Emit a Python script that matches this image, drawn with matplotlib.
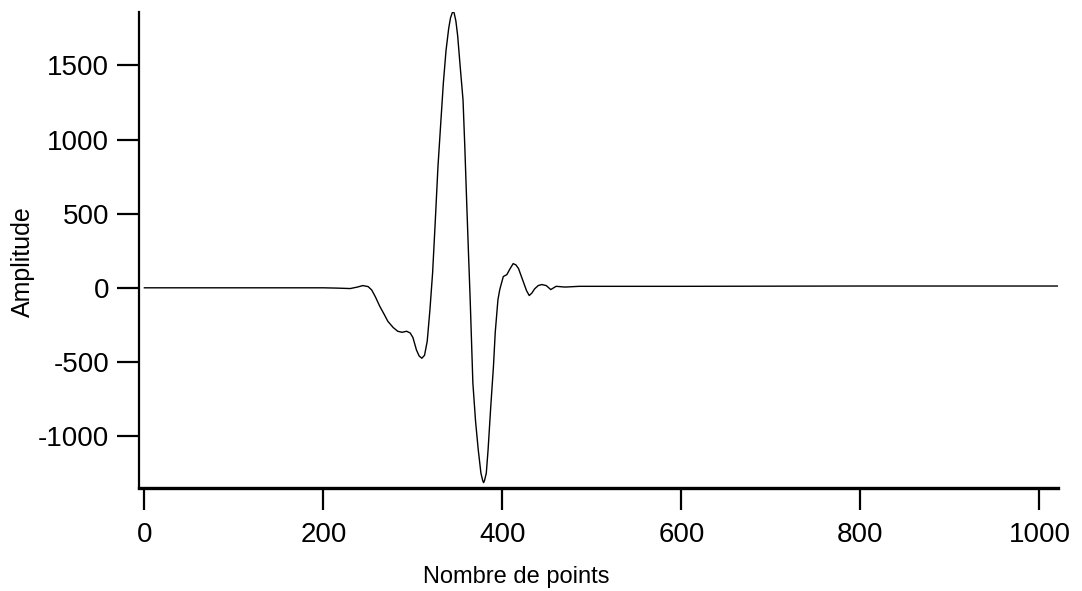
import numpy as np
import matplotlib.pyplot as plt

plt.rcParams['font.family'] = ['Liberation Sans', 'DejaVu Sans']
plt.rcParams['axes.unicode_minus'] = False

# waveform (point index, amplitude)
points = [0, 200, 215, 230, 238, 244, 250, 254, 258, 263, 268, 272, 278, 283,
          288, 293, 297, 300, 304, 307, 310, 313, 316, 319, 322, 325, 328, 331,
          334, 337, 340, 342, 344, 345, 346, 348, 350, 353, 356, 358, 360, 362,
          364, 367, 370, 373, 376, 378, 379, 380, 382, 384, 387, 390, 392, 395,
          397, 401, 405, 408, 412, 415, 418, 421, 424, 427, 430, 433, 436, 440,
          444, 449, 454, 460, 470, 486, 600, 800, 1023]
amplitude = [0, 0, -2, -5, 5, 15, 8, -15, -60, -125, -180, -226, -268, -293,
             -300, -293, -305, -335, -420, -460, -475, -455, -360, -150, 100, 450,
             818, 1100, 1380, 1600, 1750, 1820, 1855, 1862, 1855, 1800, 1700, 1480,
             1267, 950, 593, 250, -81, -642, -900, -1092, -1250, -1300, -1314,
             -1300, -1250, -1092, -800, -530, -300, -81, -13, 76, 89, 123, 163,
             155, 130, 80, 30, -20, -52, -35, -7, 15, 22, 15, -12, 10, 5, 10, 10,
             12, 12]

xticks = [0, 200, 400, 600, 800, 1000]
yticks = [-1000, -500, 0, 500, 1000, 1500]

fig = plt.figure(figsize=(10.82, 5.91), dpi=100)
ax = fig.add_axes([0.1285, 0.1743, 0.8495, 0.8054])

ax.plot(points, amplitude, color='black', lw=1.0)

ax.set_xlim(-6, 1021)
ax.set_ylim(-1350, 1860)
ax.set_xticks(xticks)
ax.set_yticks(yticks)

ax.spines['top'].set_visible(False)
ax.spines['right'].set_visible(False)
ax.spines['left'].set_linewidth(1.6)
ax.spines['bottom'].set_linewidth(2.4)
ax.tick_params(axis='both', direction='out', length=15.5, width=1.6, labelsize=20, pad=6)
ax.tick_params(axis='x', pad=9)

ax.set_xlabel('Nombre de points', fontsize=17)
ax.set_ylabel('Amplitude', fontsize=18)
# the labels sit off-centre in the original
ax.xaxis.set_label_coords(0.41, -0.163)
ax.yaxis.set_label_coords(-0.113, 0.475)

fig.savefig('out.png', dpi=100)
